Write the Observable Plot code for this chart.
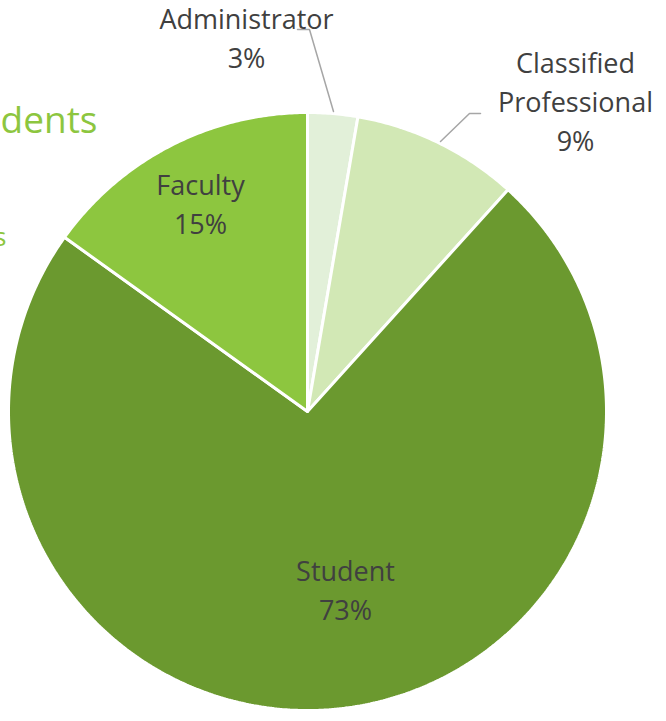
<!DOCTYPE html>
<html>
<head>
<meta charset="utf-8">
<script src="https://cdn.jsdelivr.net/npm/d3@7"></script>
<script src="https://cdn.jsdelivr.net/npm/@observablehq/plot@0.6"></script>
<style>
  html, body { margin: 0; padding: 0; background: #ffffff; overflow: hidden; }
  #chart svg { display: block; }
</style>
</head>
<body>
<div id="chart"></div>
<script>
// ---- data ----
const categories = ["Administrator", "Classified Professional", "Student", "Faculty"];
const shares = [2.7, 9.0, 73.2, 15.1];          // percent of respondents
const labelLines = [["Administrator"], ["Classified", "Professional"], ["Student"], ["Faculty"]];
const titleFragments = ["dents", "s"];

// ---- layout (pixels) ----
const W = 666, H = 721;
const cx = 307, cy = 411, R = 299;
const colors = ["#e2f0d9", "#d2e8b5", "#6b992f", "#8dc63f"];
const labelPos = [[246, 20], [575, 64], [345, 572], [200, 186]];
const lineH = 39;
const leaders = {
  Administrator: [[297, 29], [309, 29], [333, 111]],
  "Classified Professional": [[480, 113], [469, 113], [440, 141]]
};

// ---- geometry via d3.pie ----
const pie = d3.pie().sort(null).value(d => d.v)(categories.map((c, i) => ({c, v: shares[i], i})));
const slicePts = [];
for (const a of pie) {
  const pts = [[cx, cy]];
  const n = Math.max(4, Math.ceil((a.endAngle - a.startAngle) / (Math.PI / 360)));
  for (let k = 0; k <= n; k++) {
    const t = a.startAngle + (a.endAngle - a.startAngle) * k / n;
    pts.push([cx + R * Math.sin(t), cy - R * Math.cos(t)]);
  }
  pts.push([cx, cy]);
  for (const p of pts) slicePts.push({cat: a.data.c, x: p[0], y: p[1]});
}

const fmt = d3.format(".0%");
const labels = [];
categories.forEach((c, i) => {
  const lines = [...labelLines[i], fmt(Math.round(shares[i]) / 100)];
  lines.forEach((t, j) => labels.push({x: labelPos[i][0], y: labelPos[i][1] + j * lineH, t}));
});

const leaderPts = [];
for (const [k, pts] of Object.entries(leaders)) pts.forEach(p => leaderPts.push({k, x: p[0], y: p[1]}));

const chart = Plot.plot({
  width: W, height: H,
  margin: 0,
  style: {background: "#ffffff", fontFamily: "'Open Sans', sans-serif"},
  x: {domain: [0, W], range: [0, W], axis: null},
  y: {domain: [0, H], range: [0, H], axis: null},
  color: {domain: categories, range: colors},
  marks: [
    Plot.line(slicePts, {x: "x", y: "y", z: "cat", fill: "cat", stroke: "#ffffff", strokeWidth: 3, strokeLinejoin: "miter", curve: "linear"}),
    Plot.line(leaderPts, {x: "x", y: "y", z: "k", stroke: "#a6a6a6", strokeWidth: 1.5}),
    Plot.text(labels, {x: "x", y: "y", text: "t", fontSize: 27, fill: "#404040", textAnchor: "middle", lineAnchor: "middle"}),
    Plot.text([titleFragments[0]], {x: [97], y: [121], text: d => d, fontSize: 37, fill: "#8dc63f", textAnchor: "end", lineAnchor: "middle"}),
    Plot.text([titleFragments[1]], {x: [6], y: [237], text: d => d, fontSize: 26, fill: "#8dc63f", textAnchor: "end", lineAnchor: "middle"})
  ]
});
document.getElementById("chart").appendChild(chart);
</script>
</body>
</html>
